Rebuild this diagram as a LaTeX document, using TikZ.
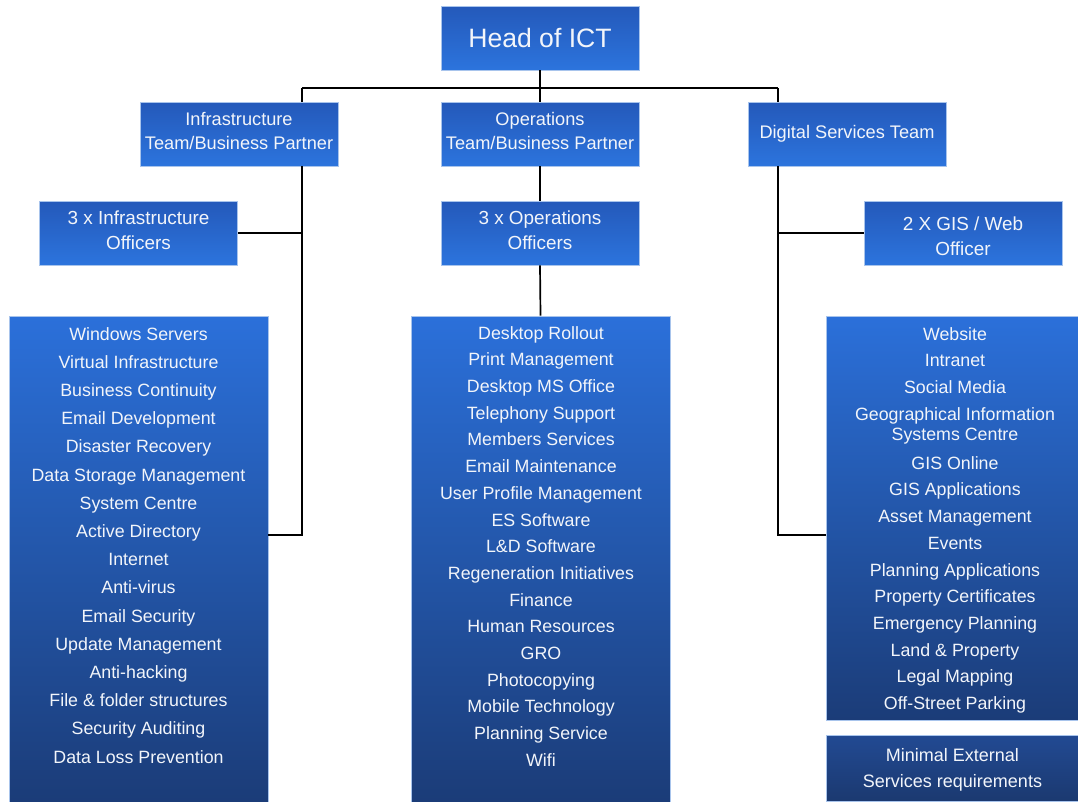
\documentclass[tikz,border=0pt]{standalone}
\usepackage{fontspec}
\setmainfont{Liberation Sans}
\definecolor{smtop}{HTML}{2459BA}
\definecolor{smbot}{HTML}{2C74DD}
\definecolor{lstop}{HTML}{2B70DA}
\definecolor{lsbot}{HTML}{1B3C78}
\definecolor{mntop}{HTML}{224A93}
\definecolor{mnbot}{HTML}{1B3970}
\definecolor{edge}{HTML}{A8C4EC}
\definecolor{txt}{HTML}{F2F5FA}
\tikzset{
  x=1pt, y=-1pt,
  smallbox/.style={rectangle, draw=edge, line width=0.7pt, top color=smtop, bottom color=smbot,
    minimum width=198pt, minimum height=64pt, inner sep=0pt},
  boxtext/.style={align=center, text=txt, inner sep=0pt},
  lvtwo/.style={boxtext, font=\fontsize{18.2}{24}\selectfont},
  lvthree/.style={boxtext, font=\fontsize{18.9}{25}\selectfont},
  listbox/.style={rectangle, draw=edge, line width=0.7pt, top color=lstop, bottom color=lsbot, inner sep=0pt},
  listtext/.style={anchor=north, align=center, text=txt, inner sep=0pt},
  conn/.style={draw=black, line width=1.7pt}
}
\begin{document}
\begin{tikzpicture}
\useasboundingbox (0,0) rectangle (1078,801);
\fill[white] (0,0) rectangle (1078,801);
% top levels
\node[smallbox, label={[boxtext, font=\fontsize{26.6}{30}\selectfont]center:Head of ICT}] (head) at (540,38) {};
\node[smallbox, label={[lvtwo, yshift=3pt]center:{Infrastructure\\Team/Business Partner}}] (infra) at (239,134) {};
\node[smallbox, label={[lvtwo, yshift=3pt]center:{Operations\\Team/Business Partner}}] (ops) at (540,134) {};
\node[smallbox, label={[lvtwo]center:{Digital Services Team}}] (digital) at (847,134) {};
\node[smallbox, label={[lvthree, yshift=2.5pt]center:{3 x Infrastructure\\Officers}}] (infraoff) at (138.5,233) {};
\node[smallbox, label={[lvthree, yshift=2.5pt]center:{3 x Operations\\Officers}}] (opsoff) at (540,233) {};
\node[smallbox, label={[lvthree, yshift=-3pt]center:{2 X GIS / Web\\Officer}}] (gis) at (963,233) {};
% list boxes
\node[listbox, minimum width=259pt, minimum height=486pt] (infralist) at (138.5,559) {};
\node[listbox, minimum width=259pt, minimum height=486pt] (opslist) at (540.5,559) {};
\node[listbox, minimum width=253pt, minimum height=404pt] (digilist) at (952.5,518) {};
\node[rectangle, draw=edge, line width=0.7pt, top color=mntop, bottom color=mnbot, inner sep=0pt,
  minimum width=253pt, minimum height=66pt,
  label={[boxtext, yshift=-1.5pt, font=\fontsize{18}{26}\selectfont]center:{Minimal External\\Services requirements}}] (minimal) at (952.5,768) {};
% list texts
\node[listtext, font=\fontsize{17.8}{28.2}\selectfont] (infratext) at (138.5,327) {Windows Servers\\Virtual Infrastructure\\Business Continuity\\Email Development\\Disaster Recovery\\Data Storage Management\\System Centre\\Active Directory\\Internet\\Anti-virus\\Email Security\\Update Management\\Anti-hacking\\File \& folder structures\\Security Auditing\\Data Loss Prevention};
\node[listtext, font=\fontsize{17.8}{26.7}\selectfont] (opstext) at (541,326) {Desktop Rollout\\Print Management\\Desktop MS Office\\Telephony Support\\Members Services\\Email Maintenance\\User Profile Management\\ES Software\\L\&D Software\\Regeneration Initiatives\\Finance\\Human Resources\\GRO\\Photocopying\\Mobile Technology\\Planning Service\\Wifi};
\node[listtext, font=\fontsize{17.8}{26.7}\selectfont] (digitext) at (955,327) {Website\\Intranet\\Social Media\\Geographical Information\\[-6.7pt]Systems Centre\\[2.3pt]GIS Online\\GIS Applications\\Asset Management\\Events\\Planning Applications\\Property Certificates\\Emergency Planning\\Land \& Property\\Legal Mapping\\Off-Street Parking};
% connectors
\coordinate (lt) at (302,88);
\coordinate (rt) at (778,88);
\coordinate (lj) at (302,535);
\coordinate (rj) at (778,535);
\draw[conn] (lt) -- (rt);
\draw[conn] (head.south) -- (ops.north);
\draw[conn] (lt) -- (lt |- infra.north);
\draw[conn] (rt) -- (rt |- digital.north);
\draw[conn] (lt |- infra.south) -- (lj) -- (lj -| infralist.east);
\draw[conn] (infraoff.east) -- (infraoff.east -| lt);
\draw[conn] (ops.south) -- (opsoff.north);
\draw[conn] (opsoff.south) -- (opslist.north);
\draw[conn] (rt |- digital.south) -- (rj) -- (rj -| digilist.west);
\draw[conn] (gis.west) -- (gis.west -| rt);
\end{tikzpicture}
\end{document}
